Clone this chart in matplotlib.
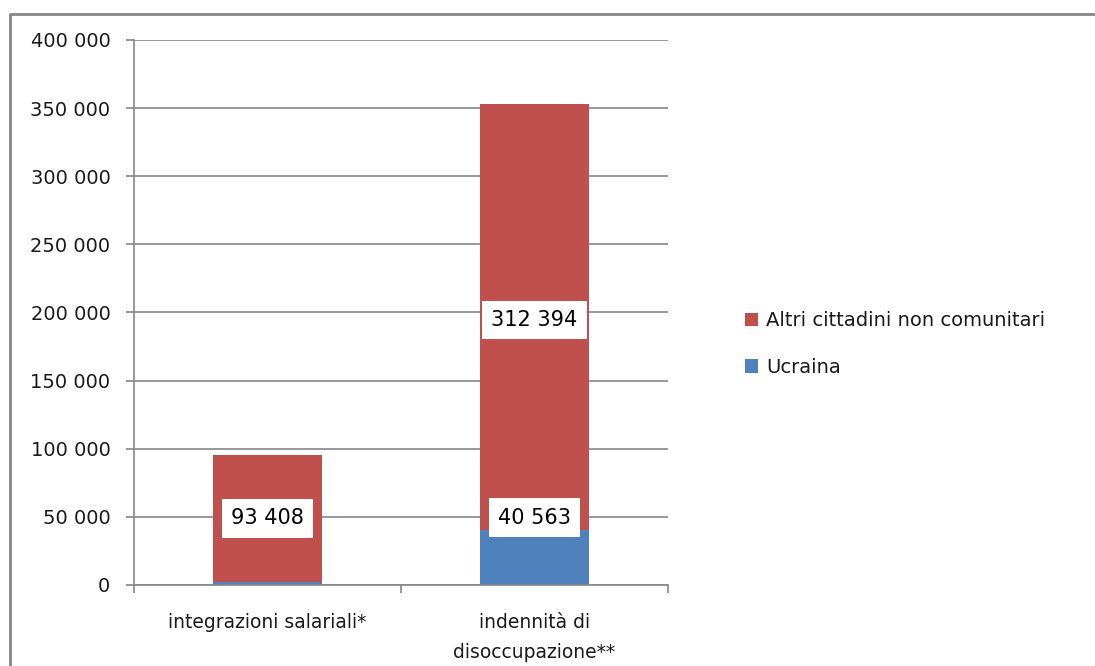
import matplotlib.pyplot as plt
from matplotlib.lines import Line2D
from matplotlib.ticker import FuncFormatter

# Data
categories = ['integrazioni salariali*', 'indennità di\ndisoccupazione**']
ucraina = [2100, 40563]
altri = [93408, 312394]
series_names = ['Ucraina', 'Altri cittadini non comunitari']

# Data label heights as placed in the original chart (None = label hidden)
label_y_altri = [49000, 194500]
label_y_ucraina = [None, 49500]

blue = '#4F81BD'
red = '#C0504D'
grey = '#868686'
txt = '#1a1a1a'

plt.rcParams['font.family'] = ['DejaVu Sans']

fig = plt.figure(figsize=(10.95, 6.66), dpi=100)
ax = fig.add_axes([134 / 1095, 1 - 585 / 666, (668 - 134) / 1095, (585 - 40) / 666])

x = list(range(len(categories)))
width = 0.405
ax.bar(x, ucraina, width, color=blue, label=series_names[0], zorder=2)
ax.bar(x, altri, width, bottom=ucraina, color=red, label=series_names[1], zorder=2)


def value_label(xpos, ypos, value):
    ax.text(xpos, ypos, f'{value:,}'.replace(',', ' '), ha='center', va='center',
            fontsize=15, color='black', zorder=3,
            bbox=dict(boxstyle='square,pad=0.45', facecolor='white', edgecolor='none'))


for i in x:
    value_label(i, label_y_altri[i], altri[i])
    if label_y_ucraina[i] is not None:
        value_label(i, label_y_ucraina[i], ucraina[i])

ax.set_xlim(-0.5, 1.5)
ax.set_ylim(0, 400000)
ax.set_yticks(range(0, 400001, 50000))
ax.yaxis.set_major_formatter(FuncFormatter(lambda v, p: f'{int(v):,}'.replace(',', ' ')))
ax.grid(axis='y', color=grey, linewidth=1.2, zorder=1)

ax.set_xticks([-0.5, 0.5, 1.5])
ax.set_xticklabels([])
ax.set_xticks(x, minor=True)
ax.set_xticklabels(categories, minor=True, fontsize=13.5, color=txt, linespacing=1.75)
ax.tick_params(axis='x', which='minor', length=0, pad=20)
ax.tick_params(axis='x', which='major', length=6, width=1.2, color=grey)
ax.tick_params(axis='y', length=6, width=1.2, color=grey, labelsize=14, labelcolor=txt, pad=11)

for s in ['top', 'right']:
    ax.spines[s].set_visible(False)
for s in ['left', 'bottom']:
    ax.spines[s].set_color(grey)
    ax.spines[s].set_linewidth(1.2)

handles, labels = ax.get_legend_handles_labels()
leg = fig.legend(handles[::-1], labels[::-1], loc='center left',
                 bbox_to_anchor=(727 / 1095, 1 - 344 / 666), frameon=False,
                 fontsize=14, labelspacing=1.4, handlelength=0.7, handleheight=0.7,
                 handletextpad=0.4)
for t in leg.get_texts():
    t.set_color(txt)

# Outer chart frame (left and top edges)
fig.add_artist(Line2D([10 / 1095, 10 / 1095, 1.0], [0.0, 1 - 14 / 666, 1 - 14 / 666],
                      transform=fig.transFigure, color=grey, linewidth=2))

fig.savefig('out.png', dpi=100)
